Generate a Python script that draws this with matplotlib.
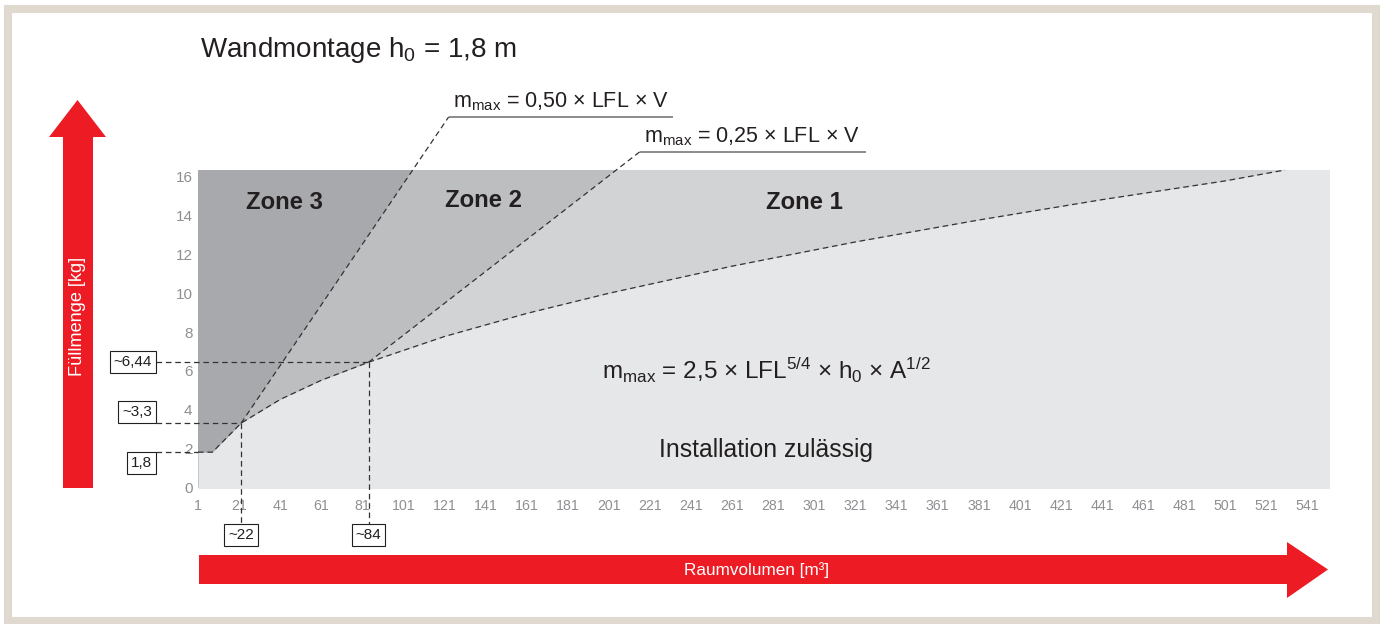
import matplotlib
matplotlib.use('Agg')
import matplotlib.pyplot as plt
from matplotlib.patches import Polygon, Rectangle
from matplotlib import transforms

plt.rcParams['font.family'] = ['Liberation Sans', 'DejaVu Sans']
plt.rcParams['mathtext.default'] = 'regular'

# Grenzkurve m_max = 2,5 x LFL^5/4 x h0 x A^1/2
curve_vol = [1, 8, 22, 41, 61, 84, 121, 161, 201, 261, 321, 381, 441, 501, 530]
curve_mass = [1.8, 1.8, 3.3, 4.52, 5.51, 6.44, 7.77, 8.96, 10.0, 11.4, 12.65, 13.78, 14.83, 15.8, 16.36]

# Geraden 0,50 / 0,25 x LFL x V: Schnittpunkt bis Beschriftungsstrich
line50_vol = [22, 123]
line50_mass = [3.3, 19.1]
line25_vol = [84, 216]
line25_mass = [6.44, 17.3]

ref_mass = [1.8, 3.3, 6.44]
ref_mass_labels = ['1,8', '~3,3', '~6,44']
ref_vol = [22, 84]
ref_vol_labels = ['~22', '~84']

x_ticks = list(range(1, 542, 20))
y_ticks = list(range(0, 17, 2))

W, H = 1386, 624
RED = '#ed1c24'
ZONE3, ZONE2, ZONE1, FREE = '#a7a9ac', '#bcbec0', '#d1d3d4', '#e6e7e8'
TICK_GRAY = '#8d8f92'
INK = '#231f20'


def P(x, y):
    return (x / W, 1 - y / H)


fig = plt.figure(figsize=(W / 100, H / 100), dpi=100)
ax = fig.add_axes([198 / W, 136 / H, 1131 / W, 318 / H])
ax.set_xlim(1, 551.4)
ax.set_ylim(-0.05, 16.36)
ax.set_facecolor(ZONE3)
for s in ax.spines.values():
    s.set_visible(False)

# Zonen
ax.fill([line50_vol[0], line50_vol[1], 600, 600, line50_vol[0]],
        [line50_mass[0], line50_mass[1], line50_mass[1], -5, -5], color=ZONE2, lw=0)
ax.fill([line25_vol[0], line25_vol[1], 600, 600, line25_vol[0]],
        [line25_mass[0], line25_mass[1], line25_mass[1], -5, -5], color=ZONE1, lw=0)
ax.fill_between(curve_vol + [600], curve_mass + [20], -5, color=FREE, lw=0)

dash = dict(color='#333333', lw=0.9, dashes=(4.5, 3), clip_on=False)
ax.plot(curve_vol, curve_mass, **dash)
ax.plot(line50_vol, line50_mass, **dash)
ax.plot(line25_vol, line25_mass, **dash)

# Hilfslinien zu den Werten
box_x = -19.4
box_y = -1.91
ref_end = [curve_vol[0], ref_vol[0], ref_vol[1]]
for m, v in zip(ref_mass, ref_end):
    ax.plot([box_x, v], [m, m], **dash)
for v, m in zip(ref_vol, ref_mass[1:]):
    ax.plot([v, v], [m, box_y], **dash)

box = dict(boxstyle='square,pad=0.25', fc='white', ec=INK, lw=0.8)
valign = ['top', 'bottom', 'center']
dy = [-2.8, 2.8, 0]
for m, lab, va, d in zip(ref_mass, ref_mass_labels, valign, dy):
    t = transforms.offset_copy(ax.transData, fig=fig, x=-2.8, y=d, units='points')
    ax.text(box_x, m, lab, ha='right', va=va, fontsize=11, color=INK,
            bbox=box, transform=t, clip_on=False)
for v, lab in zip(ref_vol, ref_vol_labels):
    t = transforms.offset_copy(ax.transData, fig=fig, y=-2.8, units='points')
    ax.text(v, box_y, lab, ha='center', va='top', fontsize=11, color=INK,
            bbox=box, transform=t, clip_on=False)

# Formel-Beschriftungen der Geraden
ul = dict(color='#808285', lw=1.3, clip_on=False, solid_capstyle='butt')
ax.plot([line50_vol[1], line50_vol[1] + 109], [line50_mass[1]] * 2, **ul)
ax.plot([line25_vol[1], line25_vol[1] + 110], [line25_mass[1]] * 2, **ul)
ax.text(line50_vol[1] + 2, line50_mass[1] + 0.5, 'm$_{max}$ = 0,50 × LFL × V',
        fontsize=15.5, color=INK, va='baseline', clip_on=False)
ax.text(line25_vol[1] + 2, line25_mass[1] + 0.5, 'm$_{max}$ = 0,25 × LFL × V',
        fontsize=15.5, color=INK, va='baseline', clip_on=False)

# Zonen-Texte
for v, m, lab in [(43.3, 14.7, 'Zone 3'), (140, 14.8, 'Zone 2'), (296, 14.66, 'Zone 1')]:
    ax.text(v, m, lab, ha='center', va='center', fontsize=17.2, fontweight='bold', color=INK)
ax.text(277.4, 6.04, 'm$_{max}$ = 2,5 × LFL$^{5/4}$ × h$_0$ × A$^{1/2}$',
        ha='center', va='center', fontsize=17.5, color=INK)
ax.text(277.4, 1.9, 'Installation zulässig', ha='center', va='center', fontsize=17.8, color=INK)

# Achsen
ax.set_xticks(x_ticks)
ax.set_xticklabels([str(x) for x in x_ticks])
ax.set_yticks(y_ticks)
ax.set_yticklabels([str(y) for y in y_ticks])
ax.tick_params(axis='x', length=0, pad=8, labelsize=10.2, labelcolor=TICK_GRAY)
ax.tick_params(axis='y', length=0, pad=4, labelsize=11, labelcolor=TICK_GRAY)

# Titel
fig.text(200 / W, 1 - 57 / H, 'Wandmontage h$_0$ = 1,8 m', fontsize=20, color=INK,
         va='baseline', ha='left')

# Rote Pfeile
up = [P(63, 488), P(93, 488), P(93, 137), P(106, 137), P(77.5, 100),
      P(49, 137), P(63, 137)]
fig.add_artist(Polygon(up, closed=True, color=RED, lw=0, transform=fig.transFigure))
fig.text(78 / W, 1 - 316 / H, 'Füllmenge [kg]', rotation=90, color='white', fontsize=13.1,
         ha='center', va='center')
right = [P(199, 555), P(1287, 555), P(1287, 542), P(1328, 569.5), P(1287, 598),
         P(1287, 584), P(199, 584)]
fig.add_artist(Polygon(right, closed=True, color=RED, lw=0, transform=fig.transFigure))
fig.text(757 / W, 1 - 570 / H, 'Raumvolumen [m³]', color='white', fontsize=12.3,
         ha='center', va='center')

# Rahmen
fig.add_artist(Rectangle(P(8, 620.5), 1368 / W, 612 / H, fill=False, ec='#e0d9cf',
                         lw=5.8, transform=fig.transFigure))

fig.savefig('out.png', dpi=100)
